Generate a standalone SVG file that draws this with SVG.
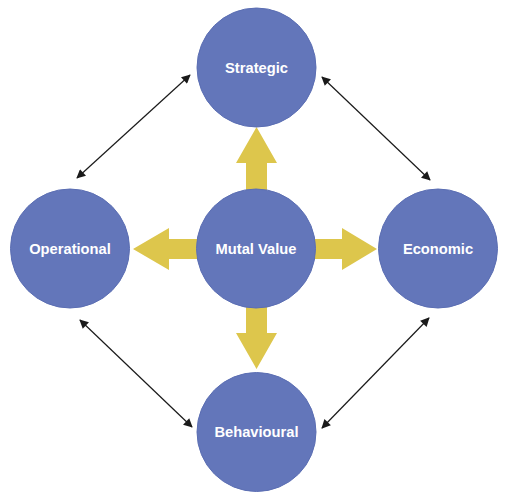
<svg xmlns="http://www.w3.org/2000/svg" width="512" height="502" viewBox="0 0 512 502">
<style>
.node{fill:#6376BA;stroke:#5B6EB3;stroke-width:1}
.lbl{font-family:"Liberation Sans",Arial,sans-serif;font-weight:bold;font-size:14.7px;fill:#fff;text-anchor:middle;dominant-baseline:central}
.big{fill:#DDC64C}
.con{stroke:#1a1a1a;stroke-width:1.2;fill:none;marker-start:url(#ah);marker-end:url(#ah)}
</style>
<defs>
<marker id="ah" viewBox="0 0 10 10" refX="9" refY="5" markerWidth="11" markerHeight="9" markerUnits="userSpaceOnUse" orient="auto-start-reverse">
<path d="M0,0 L10,5 L0,10 z" fill="#1a1a1a"/>
</marker>
</defs>
<rect width="512" height="502" fill="#fff"/>
<g id="connectors">
<g id="yellow-arrows">
<path class="big" d="M246,200 V163 H236 L256.5,127 L277,163 H267 V200 Z"/>
<path class="big" d="M246,296 V333 H236 L256.5,369 L277,333 H267 V296 Z"/>
<path class="big" d="M205,239 H169 V228 L133,249 L169,270 V259 H205 Z"/>
<path class="big" d="M308,239 H342 V228 L377,249 L342,270 V259 H308 Z"/>
</g>
<line class="con" x1="190" y1="75" x2="77" y2="178"/>
<line class="con" x1="322" y1="77" x2="430" y2="180"/>
<line class="con" x1="80" y1="320" x2="192" y2="427"/>
<line class="con" x1="429" y1="318" x2="322" y2="428"/>
</g>
<g id="strategic"><circle class="node" cx="256.5" cy="67.5" r="59.5"/><text class="lbl" x="256.5" y="67.5">Strategic</text></g>
<g id="operational"><circle class="node" cx="70" cy="248.5" r="59.5"/><text class="lbl" x="70" y="248.5">Operational</text></g>
<g id="mutal-value"><circle class="node" cx="256" cy="248.5" r="59.5"/><text class="lbl" x="256" y="248.5">Mutal Value</text></g>
<g id="economic"><circle class="node" cx="438" cy="248.5" r="59.5"/><text class="lbl" x="438" y="248.5">Economic</text></g>
<g id="behavioural"><circle class="node" cx="256.5" cy="432" r="59.5"/><text class="lbl" x="256.5" y="432">Behavioural</text></g>
</svg>
